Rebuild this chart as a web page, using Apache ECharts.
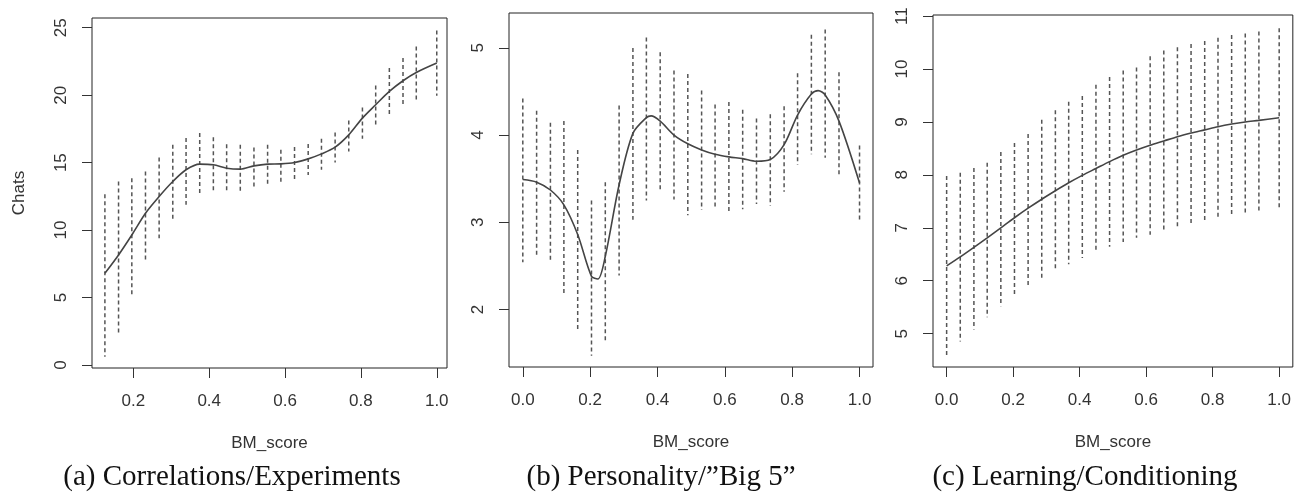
<!DOCTYPE html>
<html>
<head>
<meta charset="utf-8">
<script src="https://cdn.jsdelivr.net/npm/echarts@6/dist/echarts.min.js"></script>
<style>
  html, body { margin: 0; padding: 0; background: #fff; }
  #chart { width: 1294px; height: 494px; }
</style>
</head>
<body>
<div id="chart"></div>
<script>
// (a) Correlations/Experiments
const xA = [0.125, 0.161, 0.196, 0.232, 0.268, 0.304, 0.339, 0.375, 0.411, 0.446, 0.482, 0.518, 0.554,
  0.589, 0.625, 0.661, 0.696, 0.732, 0.768, 0.804, 0.839, 0.875, 0.911, 0.946, 1.0];
const lowA = [0.62, 2.23, 5.07, 7.79, 9.40, 10.76, 11.87, 12.56, 12.78, 12.74, 12.78, 13.11, 13.40,
  13.55, 13.78, 14.09, 14.47, 15.01, 15.82, 16.77, 17.75, 18.55, 19.16, 19.66, 19.96];
const highA = [12.66, 13.6, 13.85, 14.34, 15.38, 16.32, 16.82, 17.19, 16.89, 16.37, 16.32, 16.12, 16.32,
  15.95, 16.15, 16.39, 16.77, 17.24, 18.12, 19.09, 20.72, 22.01, 22.75, 23.61, 24.80];
const fitA = [6.80, 8.16, 9.64, 11.25, 12.49, 13.6, 14.47, 14.89, 14.84, 14.59, 14.52, 14.76, 14.89,
  14.91, 15.01, 15.28, 15.65, 16.15, 17.06, 18.3, 19.29, 20.28, 21.07, 21.68, 22.38];

// (b) Personality / Big 5
const xB = [0, 0.041, 0.082, 0.122, 0.163, 0.204, 0.245, 0.286, 0.327, 0.367, 0.408, 0.449, 0.490,
  0.531, 0.571, 0.612, 0.653, 0.694, 0.735, 0.776, 0.816, 0.857, 0.898, 0.939, 1.0];
const lowB = [2.54, 2.61, 2.57, 2.19, 1.75, 1.47, 1.63, 2.39, 3.03, 3.25, 3.37, 3.26, 3.08,
  3.14, 3.17, 3.11, 3.15, 3.21, 3.19, 3.35, 3.66, 3.78, 3.74, 3.55, 3.01];
const highB = [4.42, 4.28, 4.14, 4.16, 3.83, 3.25, 3.46, 4.34, 5.00, 5.12, 4.95, 4.74, 4.70,
  4.51, 4.35, 4.38, 4.29, 4.19, 4.24, 4.33, 4.71, 5.15, 5.21, 4.72, 3.88];
const fitXB = [0, 0.041, 0.082, 0.122, 0.163, 0.204, 0.223, 0.245, 0.286, 0.327, 0.367, 0.381, 0.408,
  0.449, 0.490, 0.531, 0.571, 0.612, 0.653, 0.694, 0.735, 0.776, 0.816, 0.857, 0.877, 0.898, 0.939, 1.0];
const fitB = [3.49, 3.46, 3.37, 3.20, 2.86, 2.38, 2.35, 2.61, 3.43, 4.02, 4.20, 4.22, 4.16,
  4.00, 3.90, 3.83, 3.78, 3.75, 3.73, 3.70, 3.72, 3.89, 4.23, 4.47, 4.51, 4.46, 4.16, 3.45];

// (c) Learning/Conditioning
const xC = xB;
const lowC = [4.58, 4.85, 5.08, 5.31, 5.52, 5.71, 5.87, 6.03, 6.18, 6.31, 6.43, 6.53, 6.64,
  6.73, 6.81, 6.87, 6.95, 7.01, 7.08, 7.14, 7.19, 7.22, 7.26, 7.31, 7.36];
const highC = [7.98, 8.04, 8.13, 8.23, 8.43, 8.60, 8.77, 9.04, 9.22, 9.38, 9.49, 9.70, 9.85,
  9.97, 10.03, 10.24, 10.35, 10.41, 10.47, 10.53, 10.59, 10.64, 10.67, 10.71, 10.77];
const fitC = [6.28, 6.45, 6.63, 6.81, 7.0, 7.19, 7.37, 7.54, 7.70, 7.85, 7.99, 8.12, 8.25,
  8.37, 8.47, 8.56, 8.64, 8.72, 8.79, 8.85, 8.91, 8.96, 9.0, 9.03, 9.08];

const xTicksA = [0.2, 0.4, 0.6, 0.8, 1.0];
const xTicksBC = [0.0, 0.2, 0.4, 0.6, 0.8, 1.0];
const yTicksA = [0, 5, 10, 15, 20, 25];
const yTicksB = [2, 3, 4, 5];
const yTicksC = [5, 6, 7, 8, 9, 10, 11];

const captions = ['(a) Correlations/Experiments', '(b) Personality/\u201dBig 5\u201d', '(c) Learning/Conditioning'];

const axisColor = '#333';
const sans = 'Liberation Sans';

const panels = [
  { grid: { left: 92, top: 18, width: 355, height: 350 }, xMin: 0.091, xMax: 1.027, yMin: -0.22, yMax: 25.72,
    xTicks: xTicksA, yTicks: yTicksA, x: xA, low: lowA, high: highA, fitX: xA, fit: fitA, yName: 'Chats', capX: 232 },
  { grid: { left: 509, top: 13, width: 364, height: 354 }, xMin: -0.041, xMax: 1.04, yMin: 1.34, yMax: 5.40,
    xTicks: xTicksBC, yTicks: yTicksB, x: xB, low: lowB, high: highB, fitX: fitXB, fit: fitB, yName: '', capX: 661 },
  { grid: { left: 933, top: 15, width: 363, height: 352 }, xMin: -0.041, xMax: 1.041, yMin: 4.37, yMax: 11.02,
    xTicks: xTicksBC, yTicks: yTicksC, x: xC, low: lowC, high: highC, fitX: xC, fit: fitC, yName: '', capX: 1085 }
];

const grids = [], xAxes = [], yAxes = [], series = [], graphics = [];

panels.forEach((p, i) => {
  grids.push(Object.assign({ show: true, borderColor: '#222', borderWidth: 1, backgroundColor: 'transparent' }, p.grid));

  xAxes.push({
    type: 'value', gridIndex: i, min: p.xMin, max: p.xMax,
    axisLine: { show: false, onZero: false },
    splitLine: { show: false },
    axisTick: { show: true, length: 10, customValues: p.xTicks, lineStyle: { color: axisColor } },
    axisLabel: { customValues: p.xTicks, formatter: v => v.toFixed(1), margin: 25,
      fontSize: 17, color: axisColor, fontFamily: sans },
    name: 'BM_score', nameLocation: 'middle', nameGap: 67,
    nameTextStyle: { fontSize: 17, color: axisColor, fontFamily: sans }
  });

  yAxes.push({
    type: 'value', gridIndex: i, min: p.yMin, max: p.yMax,
    axisLine: { show: false, onZero: false },
    splitLine: { show: false },
    axisTick: { show: true, length: 10, customValues: p.yTicks, lineStyle: { color: axisColor } },
    axisLabel: { customValues: p.yTicks, rotate: 90, margin: 22,
      fontSize: 17, color: axisColor, fontFamily: sans },
    name: p.yName, nameLocation: 'middle', nameGap: 64, nameRotate: 90,
    nameTextStyle: { fontSize: 17, color: axisColor, fontFamily: sans }
  });

  series.push({
    type: 'custom', xAxisIndex: i, yAxisIndex: i,
    data: p.x.map((x, k) => [x, p.low[k], p.high[k]]),
    encode: { x: 0, y: [1, 2] },
    renderItem: (params, api) => {
      const top = api.coord([api.value(0), api.value(2)]);
      const bottom = api.coord([api.value(0), api.value(1)]);
      return {
        type: 'line',
        shape: { x1: top[0], y1: top[1], x2: bottom[0], y2: bottom[1] },
        style: { stroke: '#555', lineWidth: 1.5, lineDash: [4, 3] }
      };
    }
  });

  series.push({
    type: 'line', xAxisIndex: i, yAxisIndex: i,
    data: p.fitX.map((x, k) => [x, p.fit[k]]),
    showSymbol: false, smooth: 0.3, z: 5,
    lineStyle: { color: '#444', width: 1.6 }
  });

  graphics.push({
    type: 'text', x: p.capX, y: 477,
    style: { text: captions[i], fontSize: 29, fontFamily: 'Liberation Serif', fill: '#111',
      align: 'center', verticalAlign: 'middle' }
  });
});

const chart = echarts.init(document.getElementById('chart'));
chart.setOption({
  animation: false,
  backgroundColor: '#fff',
  grid: grids,
  xAxis: xAxes,
  yAxis: yAxes,
  series: series,
  graphic: graphics
});
</script>
</body>
</html>
